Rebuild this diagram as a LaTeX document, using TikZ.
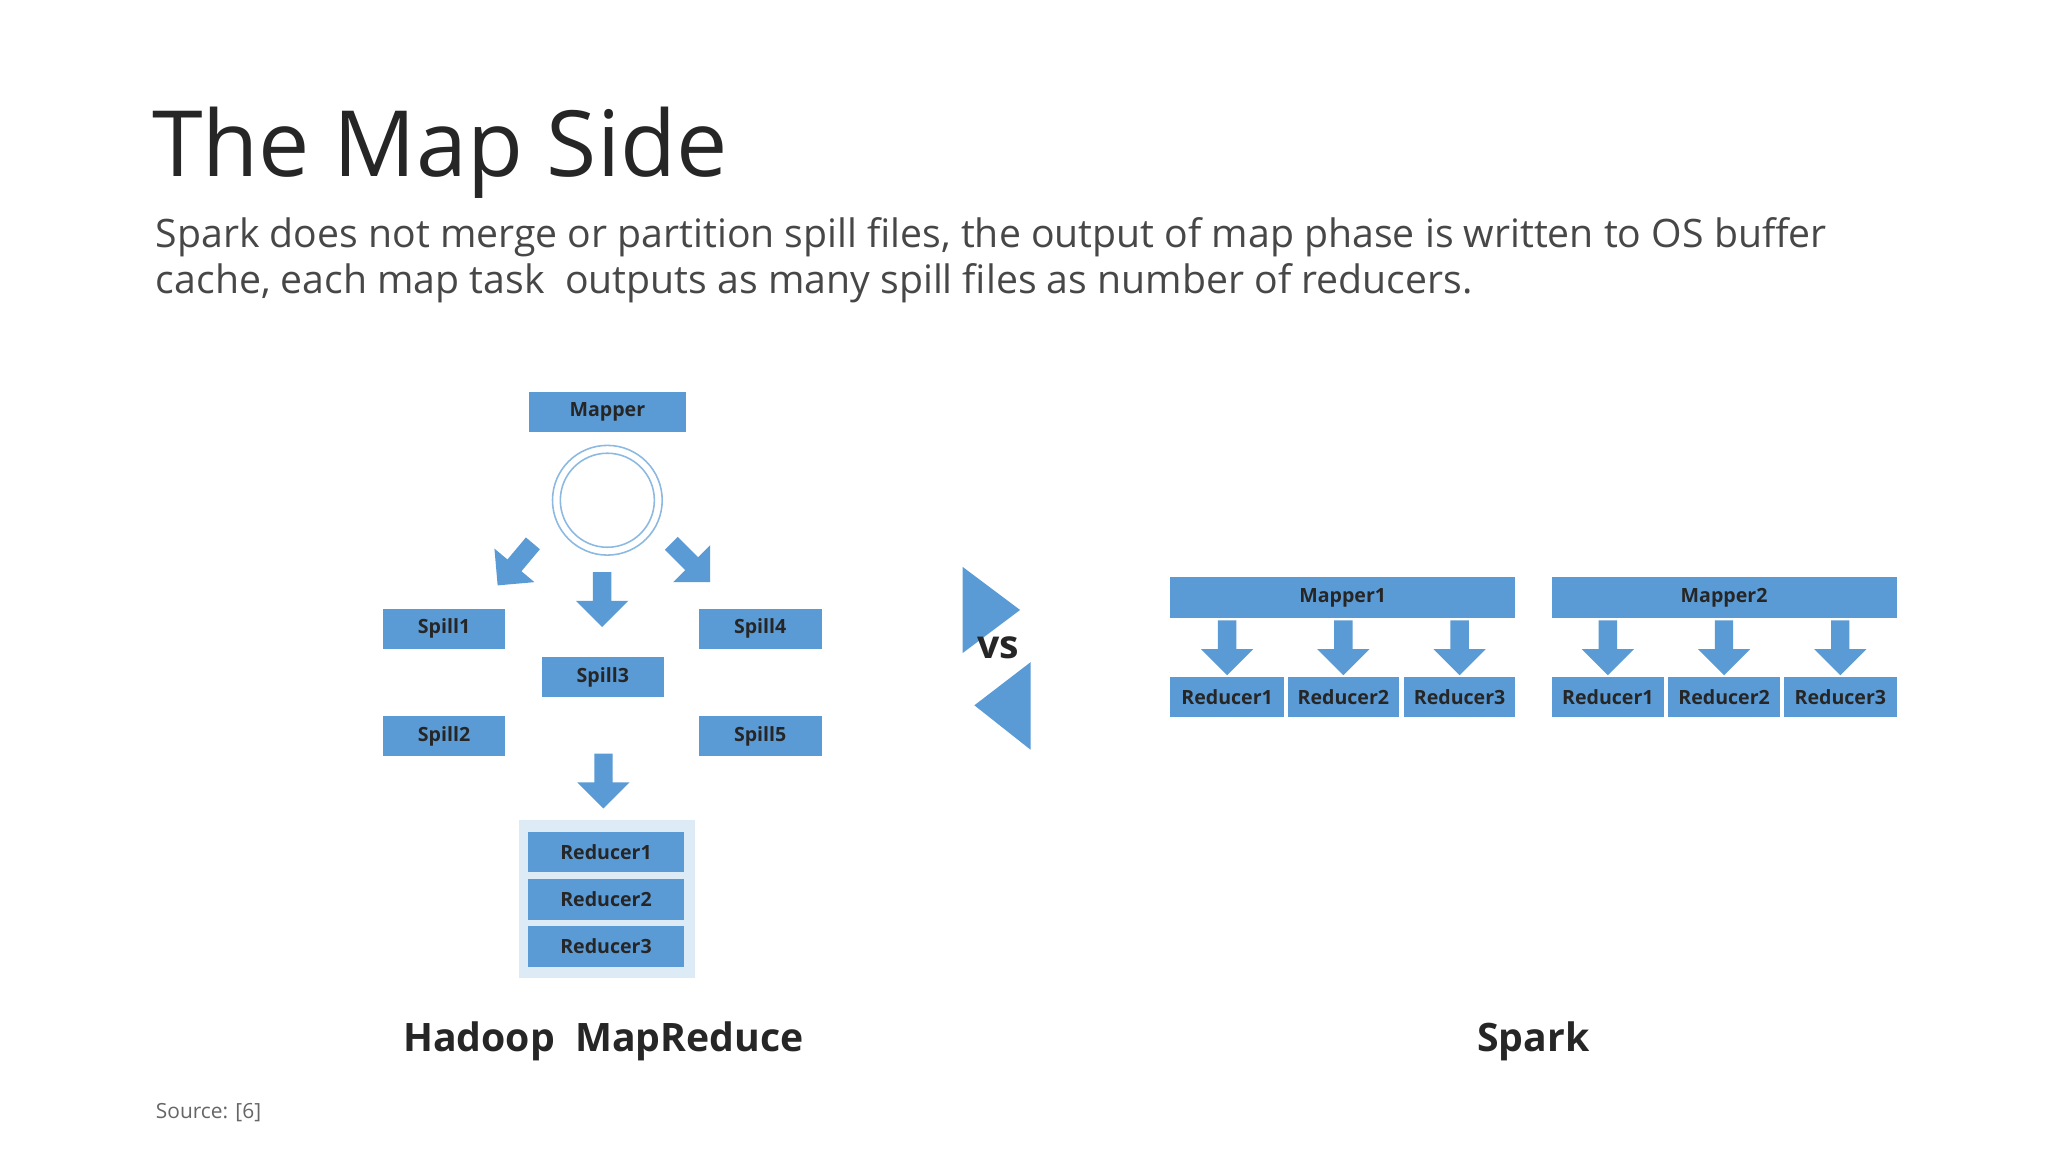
\documentclass[tikz,border=0pt]{standalone}
\usepackage{fontspec}
\setmainfont{Open Sans}
\definecolor{bb}{HTML}{5B9BD5}
\definecolor{lb}{HTML}{DDEBF7}
\definecolor{tx}{HTML}{262626}
\begin{document}
\begin{tikzpicture}[x=0.5pt,y=-0.5pt,
  box/.style={fill=bb,inner sep=0pt,font=\fontsize{7.5}{9}\selectfont\bfseries,text=tx},
  barrow/.pic={\fill[bb] (-7,0)--(7,0)--(7,22)--(20,22)--(0,42)--(-20,22)--(-7,22)--cycle;}]
\useasboundingbox (0,0) rectangle (1568,882);
\fill[white] (0,0) rectangle (1568,882);
\node[anchor=base west,inner sep=0pt,text=tx,font=\fontsize{35}{40}\selectfont] (title) at (116,135) {The Map Side};
\node[anchor=north west,inner sep=0pt,text=tx!85,font=\fontsize{15}{17.5}\selectfont,align=left] (sub) at (119,166)
 {Spark does not merge or partition spill files, the output of map phase is written to OS buffer\\cache, each map task\ \ outputs as many spill files as number of reducers.};
% Hadoop side
\node[box,minimum width=60pt,minimum height=15.5pt] (mapper) at (465,315.5) {Mapper};
\draw[bb!70,line width=0.6pt] (465,383) circle (21pt);
\draw[bb!70,line width=0.6pt] (465,383) circle (18pt);
\coordinate (circ) at (465,383);
\pic[rotate=0] at (461,438) {barrow};
\pic[rotate=-40] at (408,416) {barrow};
\pic[rotate=45] at (514,416) {barrow};
\node[box,minimum width=47pt,minimum height=15.5pt] (s1) at (340,481.5) {Spill1};
\node[box,minimum width=47pt,minimum height=15.5pt] (s4) at (582,481.5) {Spill4};
\node[box,minimum width=46.5pt,minimum height=15.5pt] (s3) at (461.5,518.5) {Spill3};
\node[box,minimum width=47pt,minimum height=15.5pt] (s2) at (340,563.5) {Spill2};
\node[box,minimum width=47pt,minimum height=15.5pt] (s5) at (582,563.5) {Spill5};
\pic at (462,577) {barrow};
\fill[lb] (397,628) rectangle (532,749);
\node[box,minimum width=60pt,minimum height=15.5pt] (r1) at (464,652.5) {Reducer1};
\node[box,minimum width=60pt,minimum height=15.5pt] (r2) at (464,688.5) {Reducer2};
\node[box,minimum width=60pt,minimum height=15.5pt] (r3) at (464,724.5) {Reducer3};
\node[font=\fontsize{15}{18}\selectfont\bfseries,text=tx] (hl) at (462,797) {Hadoop\ \ MapReduce};
% vs
\fill[bb] (737,434)--(737,500)--(781,467)--cycle;
\fill[bb] (789,507)--(789,574)--(746,540)--cycle;
\node[font=\fontsize{15}{18}\selectfont\bfseries,text=tx] (vs) at (764,496) {vs};
% Spark
\node[box,minimum width=132pt,minimum height=15.5pt] (m1) at (1028,457.5) {Mapper1};
\node[box,minimum width=132pt,minimum height=15.5pt] (m2) at (1320,457.5) {Mapper2};
\foreach \x in {939.5,1028.5,1117.5,1231,1320,1409}{\pic at (\x,475) {barrow};}
\node[box,minimum width=43.5pt,minimum height=15.5pt] (ra1) at (939.5,533.5) {Reducer1};
\node[box,minimum width=42.5pt,minimum height=15.5pt] (ra2) at (1028.5,533.5) {Reducer2};
\node[box,minimum width=42.5pt,minimum height=15.5pt] (ra3) at (1117.5,533.5) {Reducer3};
\node[box,minimum width=43pt,minimum height=15.5pt] (rb1) at (1231,533.5) {Reducer1};
\node[box,minimum width=43pt,minimum height=15.5pt] (rb2) at (1320,533.5) {Reducer2};
\node[box,minimum width=43pt,minimum height=15.5pt] (rb3) at (1409,533.5) {Reducer3};
\node[font=\fontsize{15}{18}\selectfont\bfseries,text=tx] (sl) at (1174,797) {Spark};
\node[anchor=west,inner sep=0pt,font=\fontsize{8}{10}\selectfont,text=black!60] (src) at (119,852) {Source: [6]};
\end{tikzpicture}
\end{document}
